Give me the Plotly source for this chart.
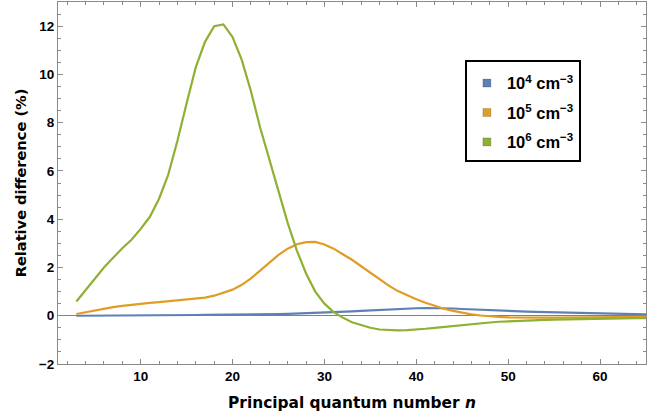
import plotly.graph_objects as go

# Principal quantum number
n = list(range(3, 66))

# Relative difference (%) for three electron densities
diff_1e4 = [0.00, 0.00, 0.01, 0.01, 0.01, 0.01, 0.02, 0.02, 0.02, 0.02,
            0.03, 0.03, 0.03, 0.03, 0.04, 0.04, 0.04, 0.05, 0.05, 0.05,
            0.06, 0.06, 0.07, 0.08, 0.09, 0.10, 0.11, 0.13, 0.14, 0.16,
            0.18, 0.20, 0.22, 0.25, 0.27, 0.29, 0.30, 0.31, 0.32, 0.32,
            0.31, 0.30, 0.28, 0.26, 0.24, 0.22, 0.20, 0.19, 0.18, 0.17,
            0.16, 0.15, 0.14, 0.13, 0.12, 0.11, 0.10, 0.09, 0.08, 0.08,
            0.07, 0.06, 0.06]

diff_1e5 = [0.07, 0.15, 0.23, 0.30, 0.36, 0.41, 0.46, 0.50, 0.53, 0.56,
            0.60, 0.63, 0.66, 0.70, 0.75, 0.83, 0.94, 1.08, 1.28, 1.55,
            1.87, 2.20, 2.52, 2.78, 2.96, 3.05, 3.06, 2.95, 2.78, 2.55,
            2.32, 2.05, 1.78, 1.52, 1.25, 1.02, 0.84, 0.68, 0.54, 0.40,
            0.29, 0.20, 0.12, 0.06, 0.01, -0.03, -0.05, -0.07, -0.08, -0.08,
            -0.08, -0.08, -0.08, -0.08, -0.07, -0.07, -0.07, -0.06, -0.06, -0.06,
            -0.05, -0.05, -0.05]

diff_1e6 = [0.59, 1.05, 1.55, 2.00, 2.40, 2.80, 3.15, 3.60, 4.10, 4.85,
            5.85, 7.25, 8.80, 10.30, 11.35, 12.00, 12.07, 11.55, 10.60, 9.30,
            7.80, 6.50, 5.10, 3.85, 2.70, 1.75, 1.00, 0.50, 0.15, -0.08,
            -0.27, -0.40, -0.50, -0.57, -0.60, -0.61, -0.60, -0.58, -0.54, -0.50,
            -0.46, -0.42, -0.38, -0.34, -0.31, -0.28, -0.25, -0.23, -0.21, -0.19,
            -0.18, -0.17, -0.16, -0.15, -0.14, -0.13, -0.12, -0.12, -0.11, -0.11,
            -0.10, -0.10, -0.10]

series = [
    ("<b>10<sup>4</sup> cm<sup>\u22123</sup></b>", diff_1e4, "#5E81B5"),
    ("<b>10<sup>5</sup> cm<sup>\u22123</sup></b>", diff_1e5, "#E19C24"),
    ("<b>10<sup>6</sup> cm<sup>\u22123</sup></b>", diff_1e6, "#8FB032"),
]

fig = go.Figure()

for name, vals, color in series:
    fig.add_trace(go.Scatter(
        x=n, y=vals, mode="lines", name=name,
        line=dict(color=color, width=2.2),
        showlegend=False,
    ))

# legend entries drawn as filled squares
for i, (name, vals, color) in enumerate(series):
    fig.add_trace(go.Scatter(
        x=[None], y=[None], mode="markers", name=name,
        marker=dict(symbol="square", size=8, color=color,
                    line=dict(color="rgba(0,0,0,0.35)", width=0.5)),
        legendgroup=f"g{i}",
    ))

frame = "#8a8a8a"
tick_font = dict(family="Liberation Sans, Arial, sans-serif", size=13.5, color="black")
title_family = "DejaVu Sans, Verdana, sans-serif"

fig.update_layout(
    width=665, height=417,
    margin=dict(l=58, r=19, t=2, b=53),
    paper_bgcolor="white", plot_bgcolor="white",
    font=dict(family="Liberation Sans, Arial, sans-serif", color="black"),
    legend=dict(
        x=0.692, y=0.84, xanchor="left", yanchor="top",
        bgcolor="white", bordercolor="black", borderwidth=2,
        font=dict(family="Liberation Sans, Arial, sans-serif", size=16.5, color="black"),
        title=dict(text=" ", font=dict(size=3)),
        tracegroupgap=5,
        itemwidth=30,
    ),
    xaxis=dict(
        range=[1, 65], tickvals=[10, 20, 30, 40, 50, 60],
        ticks="inside", ticklen=5, tickwidth=1, tickcolor=frame,
        minor=dict(dtick=2, tick0=0, ticks="inside", ticklen=3, tickcolor=frame),
        showline=True, linecolor=frame, linewidth=1, mirror="ticks",
        showgrid=False, zeroline=False,
        tickfont=dict(**tick_font, weight="bold"),
        title=dict(text="Principal quantum number <i>n</i>",
                   font=dict(family=title_family, size=15.4, color="black",
                             weight="bold"), standoff=14),
    ),
    yaxis=dict(
        range=[-2, 13], tickvals=[-2, 0, 2, 4, 6, 8, 10, 12],
        ticks="inside", ticklen=5, tickwidth=1, tickcolor=frame,
        minor=dict(dtick=0.5, tick0=0, ticks="inside", ticklen=3, tickcolor=frame),
        showline=True, linecolor=frame, linewidth=1, mirror="ticks",
        showgrid=False, zeroline=True, zerolinecolor="#808080", zerolinewidth=1,
        tickfont=dict(**tick_font, weight="bold"),
        title=dict(text="Relative difference (%)",
                   font=dict(family=title_family, size=14.6, color="black",
                             weight="bold"), standoff=8),
    ),
)

fig.write_html("out.html")
